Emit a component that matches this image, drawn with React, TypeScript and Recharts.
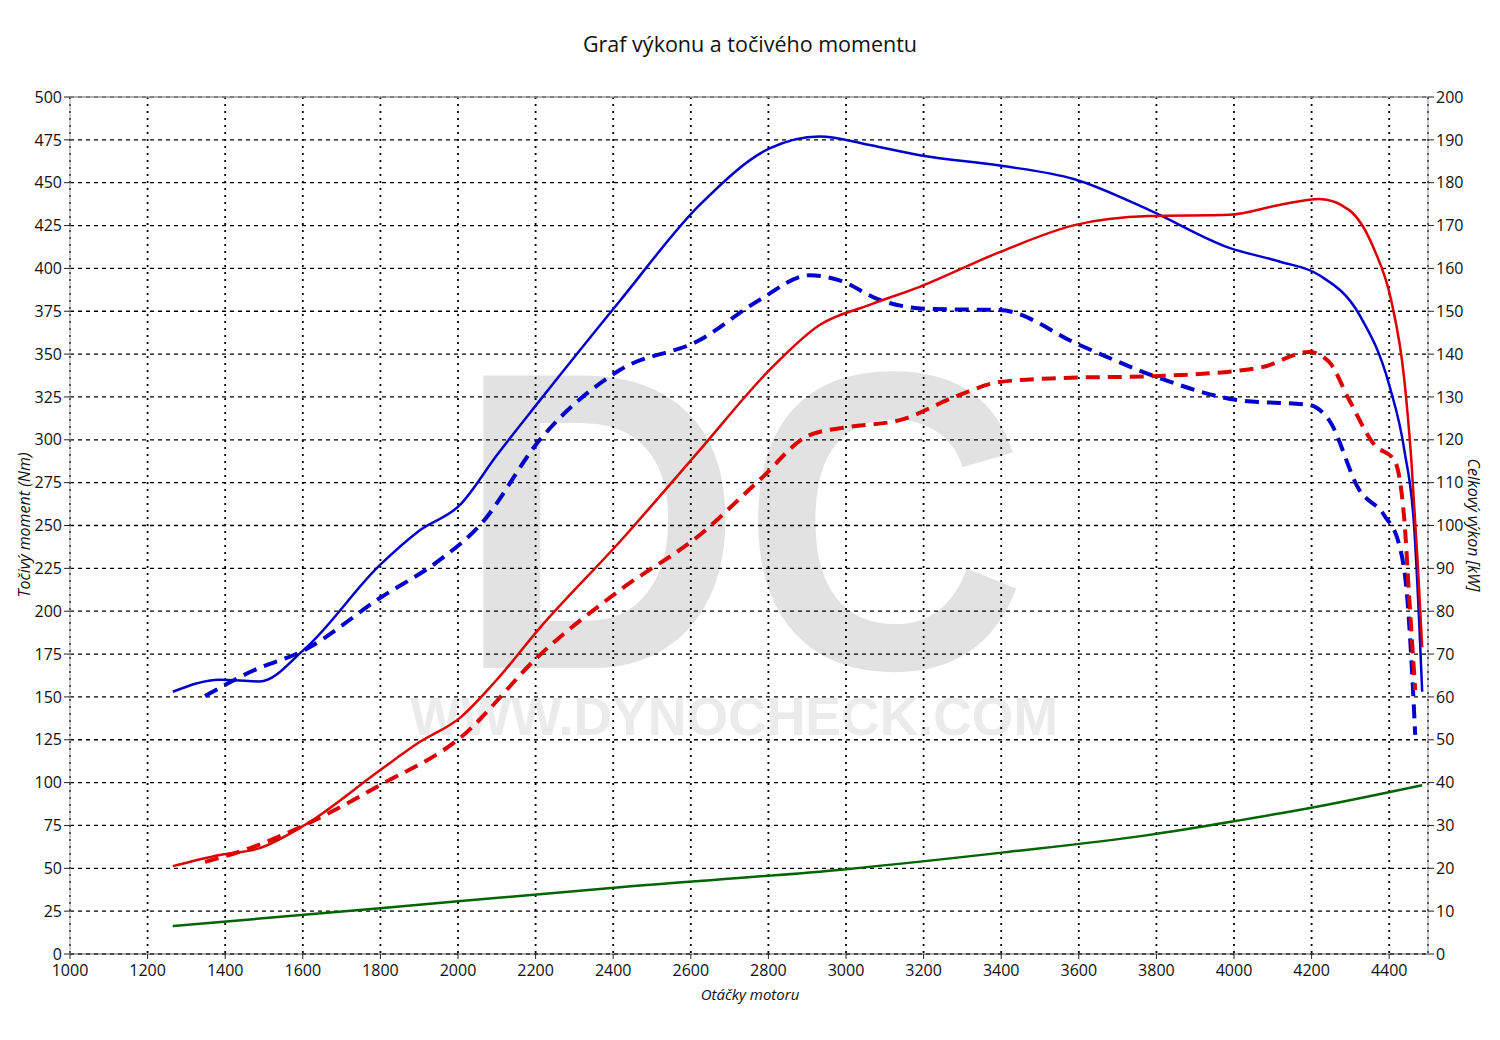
import React from 'react'
import { LineChart, Line, XAxis, YAxis, CartesianGrid, ReferenceLine } from 'recharts'

// rpm samples and values
const rpmTorqueTuned = [1265, 1386, 1489, 1605, 1799, 1900, 2005, 2100, 2211, 2417, 2623, 2803, 2932, 3061, 3190, 3396, 3589, 3782, 3988, 4117, 4220, 4323, 4400, 4439, 4465, 4477, 4485]
const torqueTuned = [153, 160, 159, 178, 227, 247, 262, 291, 323, 381, 437, 470, 477, 472, 466, 460, 452, 434, 412, 404, 396, 373, 332, 294, 247, 195, 153]

const rpmPowerTuned = [1265, 1386, 1489, 1605, 1799, 1900, 2005, 2100, 2211, 2417, 2623, 2803, 2932, 3061, 3190, 3396, 3589, 3782, 3988, 4117, 4220, 4297, 4362, 4405, 4439, 4457, 4473, 4485]
const powerTuned = [20.5, 23.1, 24.7, 30.1, 42.9, 49.4, 55.1, 64, 76.1, 96.2, 117.6, 136.3, 146.8, 151.5, 155.7, 163.8, 170.1, 172.2, 172.5, 174.8, 176.2, 173.6, 164.3, 152.6, 134, 115.3, 92, 71.6]

const rpmTorqueStock = [1348, 1464, 1605, 1799, 1953, 2056, 2211, 2417, 2623, 2777, 2906, 2983, 3087, 3216, 3396, 3602, 3808, 4014, 4194, 4245, 4323, 4387, 4426, 4447, 4460, 4467]
const torqueStock = [150.5, 164.5, 177.4, 207.7, 229.9, 250, 300, 340.7, 358.2, 381.6, 396, 393, 381.6, 376.3, 375.7, 355.3, 336, 323, 320.3, 311.5, 270.7, 256, 238.6, 206.5, 160, 127.8]

const rpmPowerStock = [1348, 1464, 1605, 1799, 2005, 2211, 2417, 2623, 2777, 2906, 3009, 3139, 3293, 3396, 3550, 3808, 4065, 4194, 4245, 4297, 4362, 4413, 4439, 4452, 4467]
const powerStock = [21.5, 24.7, 30.1, 39.4, 50.4, 69.8, 84.9, 97.8, 110.6, 121.1, 123, 124.6, 130.5, 133.5, 134.4, 134.9, 136.8, 140.5, 138.2, 129.3, 118.8, 115.3, 101.3, 82.6, 61.6]

const rpmLoss = [1265, 1799, 2417, 3001, 3396, 3782, 3988, 4220, 4485]
const powerLoss = [6.5, 10.7, 15.6, 19.8, 23.6, 27.8, 30.8, 34.5, 39.4]

const rpmTicks = [1000, 1200, 1400, 1600, 1800, 2000, 2200, 2400, 2600, 2800, 3000, 3200, 3400, 3600, 3800, 4000, 4200, 4400]
const torqueTicks = [0, 25, 50, 75, 100, 125, 150, 175, 200, 225, 250, 275, 300, 325, 350, 375, 400, 425, 450, 475, 500]
const powerTicks = [0, 10, 20, 30, 40, 50, 60, 70, 80, 90, 100, 110, 120, 130, 140, 150, 160, 170, 180, 190, 200]

const zip = (xs: number[], ys: number[]) => xs.map((rpm, i) => ({ rpm, v: ys[i] }))

const font = '"Open Sans", sans-serif'
const tickStyle = { fill: '#111', fontSize: 16, fontFamily: font }

export default function App() {
  return (
    <div style={{ position: 'absolute', left: 0, top: 0, width: 1500, height: 1040, background: '#fff', fontFamily: font }}>
      <svg width={1500} height={1040} style={{ position: 'absolute', left: 0, top: 0 }}>
        <text x={742} y={668} textAnchor="middle" fontSize={425} fontWeight={700} fill="#e2e2e2"
          fontFamily='"Liberation Sans", sans-serif' textLength={570} lengthAdjust="spacingAndGlyphs">DC</text>
        <text x={734} y={735} textAnchor="middle" fontSize={53} fontWeight={700} fill="#ebebeb"
          fontFamily='"Liberation Sans", sans-serif' textLength={648} lengthAdjust="spacingAndGlyphs">WWW.DYNOCHECK.COM</text>
      </svg>
      <div style={{ position: 'absolute', left: 0, top: 0 }}>
        <LineChart width={1500} height={1040} margin={{ top: 97, right: 12, bottom: 46, left: 10 }}>
          <CartesianGrid horizontal={true} vertical={false} yAxisId="left" stroke="#000" strokeDasharray="4 4" strokeWidth={1.3} />
          <CartesianGrid horizontal={false} vertical={true} yAxisId="left" stroke="#000" strokeDasharray="2 5" strokeWidth={1.8} />
          <XAxis type="number" dataKey="rpm" domain={[1000, 4500]} ticks={rpmTicks} allowDataOverflow height={40}
            tick={tickStyle} tickSize={5} tickMargin={6} stroke="#555" tickLine={{ stroke: '#222' }} interval={0} />
          <YAxis yAxisId="left" domain={[0, 500]} ticks={torqueTicks} width={60} interval={0}
            tick={tickStyle} tickSize={6} stroke="#999" tickLine={{ stroke: '#222' }} />
          <YAxis yAxisId="right" orientation="right" domain={[0, 200]} ticks={powerTicks} width={60} interval={0}
            tick={tickStyle} tickSize={6} stroke="#999" tickLine={{ stroke: '#222' }} />
          <ReferenceLine yAxisId="left" y={500} stroke="#999" strokeWidth={1.5} />
          <Line yAxisId="right" data={zip(rpmLoss, powerLoss)} dataKey="v" type="monotone" stroke="#006400" strokeWidth={2.5} dot={false} isAnimationActive={false} />
          <Line yAxisId="left" data={zip(rpmTorqueStock, torqueStock)} dataKey="v" type="monotone" stroke="#0000cc" strokeWidth={4} strokeDasharray="14 8" dot={false} isAnimationActive={false} />
          <Line yAxisId="right" data={zip(rpmPowerStock, powerStock)} dataKey="v" type="monotone" stroke="#dd0000" strokeWidth={4} strokeDasharray="14 8" dot={false} isAnimationActive={false} />
          <Line yAxisId="left" data={zip(rpmTorqueTuned, torqueTuned)} dataKey="v" type="monotone" stroke="#0000cc" strokeWidth={2.5} dot={false} isAnimationActive={false} />
          <Line yAxisId="right" data={zip(rpmPowerTuned, powerTuned)} dataKey="v" type="monotone" stroke="#dd0000" strokeWidth={2.5} dot={false} isAnimationActive={false} />
        </LineChart>
      </div>
      <div style={{ position: 'absolute', left: 0, top: 29, width: 1500, textAlign: 'center', fontSize: 21.5, color: '#111' }}>
        Graf výkonu a točivého momentu
      </div>
      <div style={{ position: 'absolute', left: 0, top: 984, width: 1500, textAlign: 'center', fontSize: 15, fontStyle: 'italic', color: '#111' }}>
        Otáčky motoru
      </div>
      <div style={{ position: 'absolute', left: 24, top: 525, transform: 'translate(-50%, -50%) rotate(-90deg)', whiteSpace: 'nowrap', fontSize: 16, fontStyle: 'italic', color: '#111' }}>
        Točivý moment (Nm)
      </div>
      <div style={{ position: 'absolute', left: 1474, top: 525, transform: 'translate(-50%, -50%) rotate(90deg)', whiteSpace: 'nowrap', fontSize: 16, fontStyle: 'italic', color: '#111' }}>
        Celkový výkon [kW]
      </div>
    </div>
  )
}
